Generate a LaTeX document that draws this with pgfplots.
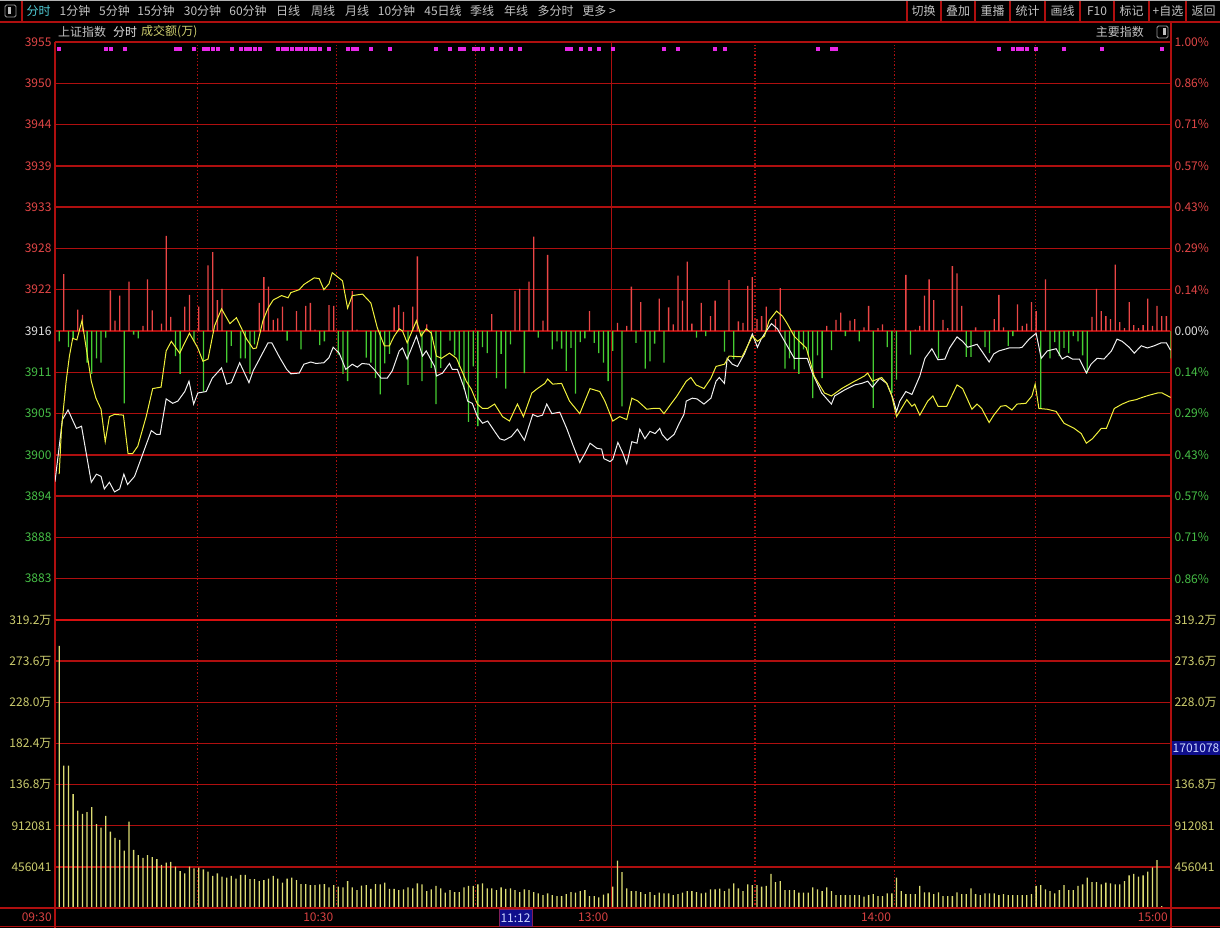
\documentclass[border=0pt]{standalone}
\usepackage{fontspec}
\setmainfont{Noto Sans CJK SC}
\usepackage{pgfplots}
\pgfplotsset{compat=1.18}
\definecolor{gridc}{RGB}{175,15,15}
\definecolor{gridb}{RGB}{215,15,15}
\definecolor{upc}{RGB}{235,70,70}
\definecolor{dnc}{RGB}{70,205,50}
\definecolor{lblr}{RGB}{225,70,70}
\definecolor{lblg}{RGB}{70,190,70}
\definecolor{lblw}{RGB}{225,225,225}
\definecolor{voll}{RGB}{205,205,110}
\definecolor{volc}{RGB}{220,220,115}
\definecolor{timec}{RGB}{215,65,65}
\definecolor{menuc}{RGB}{195,195,195}
\definecolor{cyanc}{RGB}{80,205,215}
\definecolor{liney}{RGB}{240,240,60}
\definecolor{linew}{RGB}{240,240,240}
\definecolor{mag}{RGB}{230,40,230}
\definecolor{navyb}{RGB}{15,15,140}
\pgfplotsset{
  base/.style={scale only axis, width=1116pt, xmin=-0.9, xmax=239,
    axis line style={draw=none}, tick style={draw=none}, major tick length=0pt,
    tick label style={font=\fontsize{12}{14}\selectfont},
    major grid style={draw=gridc, line width=1.5pt}},
  dottedgrid/.style={grid=major, major grid style={draw=gridc, line width=1.3pt, dash pattern=on 1.3pt off 2pt}},
}
\begin{document}
\begin{tikzpicture}
\useasboundingbox (0,0) rectangle (1220pt,-928pt);
\fill[black] (0,0) rectangle (1220pt,-928pt);

% ---------- top panel: bars (change vs previous close, index points) + right % labels
\begin{axis}[base, at={(55pt,-620pt)}, anchor=south west, height=578pt,
  ymin=-39.162, ymax=39.162,
  ytick={-33.567,-27.973,-22.378,-16.784,-11.189,-5.595,0,5.595,11.189,16.784,22.378,27.973,33.567,39.162},
  yticklabel pos=right,
  yticklabels={\textcolor{lblg}{0.86\%},\textcolor{lblg}{0.71\%},\textcolor{lblg}{0.57\%},\textcolor{lblg}{0.43\%},\textcolor{lblg}{0.29\%},\textcolor{lblg}{0.14\%},\textcolor{lblw}{0.00\%},\textcolor{lblr}{0.14\%},\textcolor{lblr}{0.29\%},\textcolor{lblr}{0.43\%},\textcolor{lblr}{0.57\%},\textcolor{lblr}{0.71\%},\textcolor{lblr}{0.86\%},\textcolor{lblr}{1.00\%}},
  xtick={-0.9,118.7,239}, xticklabels={}, grid=major,
  extra x ticks={29.8,59.6,89.5,149.6,179.5,209.8}, extra x tick labels={},
  extra x tick style={dottedgrid}]
\addplot[ybar, bar width=1.3pt, bar shift=0pt, fill=upc, draw=none] coordinates {
(1,7.7)(4,2.9)(5,2.2)(11,5.5)(12,1.4)(13,4.8)(15,6.7)(18,0.7)(19,7.0)(20,2.8)(22,1.0)(23,12.9)(24,1.9)(27,3.3)(28,4.9)(30,3.3)(32,8.9)(33,10.7)(34,4.2)(35,5.7)(43,3.8)(44,7.3)(45,6.0)(46,1.5)(47,1.7)(48,3.3)(51,2.7)(53,3.4)(54,3.8)(55,0.2)(58,3.5)(59,3.4)(63,5.4)(64,0.2)(72,3.2)(73,3.5)(74,2.6)(76,3.3)(77,10.1)(79,0.9)(93,2.3)(98,5.4)(99,5.7)(101,6.7)(102,12.8)(104,1.4)(105,10.3)(114,2.7)(120,1.1)(122,0.7)(123,6.0)(125,3.9)(129,4.4)(131,3.2)(132,0.9)(133,7.5)(134,4.1)(135,9.4)(136,1.0)(138,3.8)(140,2.0)(141,4.1)(144,6.9)(146,1.3)(147,1.1)(148,6.1)(149,7.3)(150,1.6)(151,2.0)(152,3.3)(154,1.6)(155,5.8)(165,0.7)(167,1.5)(168,2.5)(170,1.4)(171,1.6)(173,0.5)(174,3.4)(176,0.4)(177,0.9)(182,7.6)(184,0.2)(185,0.7)(186,4.8)(187,7.0)(188,4.2)(190,1.5)(191,0.4)(192,8.8)(193,7.8)(194,3.4)(197,0.5)(201,1.6)(202,4.9)(203,0.5)(206,3.6)(207,0.7)(208,1.0)(209,3.9)(210,2.7)(212,7.0)(222,1.9)(223,5.7)(224,2.7)(225,2.0)(226,1.6)(227,9.0)(228,1.2)(229,0.4)(230,3.9)(231,0.8)(232,0.4)(233,0.8)(234,4.4)(235,0.7)(236,3.4)(237,2.0)(238,2.0)};
\addplot[ybar, bar width=1.3pt, bar shift=0pt, fill=dnc, draw=none] coordinates {
(0,-1.4)(2,-2.2)(3,-1.0)(6,-4.3)(7,-5.8)(8,-3.7)(9,-4.3)(10,-0.9)(14,-9.8)(16,-0.5)(17,-1.0)(25,-3.4)(26,-5.8)(29,-1.4)(31,-8.2)(36,-4.3)(37,-2.0)(39,-3.7)(40,-3.7)(41,-5.8)(42,-1.8)(49,-1.3)(52,-2.5)(56,-1.9)(57,-1.4)(60,-3.2)(61,-5.8)(62,-6.8)(66,-3.6)(67,-4.3)(68,-6.4)(69,-8.6)(70,-4.4)(71,-3.1)(75,-7.3)(78,-6.8)(80,-5.0)(81,-9.9)(82,-5.0)(84,-1.3)(85,-3.3)(86,-4.9)(87,-7.9)(88,-12.3)(89,-4.8)(90,-12.9)(91,-2.2)(92,-3.0)(94,-6.4)(95,-3.1)(96,-7.8)(97,-1.8)(100,-5.7)(103,-0.9)(106,-2.5)(107,-1.4)(108,-2.4)(109,-5.4)(110,-2.3)(111,-8.5)(112,-1.5)(113,-1.0)(115,-1.6)(116,-3.0)(117,-4.3)(118,-6.8)(119,-2.7)(121,-10.2)(124,-1.6)(126,-5.1)(127,-4.1)(128,-1.7)(130,-4.3)(137,-0.9)(139,-0.7)(143,-2.8)(145,-3.8)(156,-5.1)(157,-3.7)(158,-5.2)(159,-5.8)(160,-2.5)(161,-3.3)(162,-9.1)(163,-3.3)(164,-6.4)(166,-2.6)(169,-0.7)(172,-1.4)(175,-10.4)(178,-2.2)(179,-8.4)(180,-6.6)(183,-3.2)(189,-3.7)(195,-3.5)(196,-3.5)(199,-2.2)(200,-3.0)(204,-2.0)(205,-0.7)(211,-10.4)(213,-3.7)(214,-1.5)(215,-3.4)(216,-2.3)(217,-3.0)(218,-0.7)(219,-1.4)(220,-3.3)(221,-5.7)(239,-3.7)};
\end{axis}

% ---------- top panel: index price lines + left price labels
\begin{axis}[base, at={(55pt,-620pt)}, anchor=south west, height=578pt,
  ymin=3877.038, ymax=3955.362, xtick=\empty,
  ytick={3882.633,3888.227,3893.822,3899.416,3905.011,3910.605,3916.2,3921.795,3927.389,3932.984,3938.578,3944.173,3949.767,3955.362},
  yticklabels={\textcolor{lblg}{3883},\textcolor{lblg}{3888},\textcolor{lblg}{3894},\textcolor{lblg}{3900},\textcolor{lblg}{3905},\textcolor{lblg}{3911},\textcolor{lblw}{3916},\textcolor{lblr}{3922},\textcolor{lblr}{3928},\textcolor{lblr}{3933},\textcolor{lblr}{3939},\textcolor{lblr}{3944},\textcolor{lblr}{3950},\textcolor{lblr}{3955}}]
\addplot[draw=linew, line width=1pt] coordinates {
(-0.9,3895.8)(0.7,3904.2)(1.9,3905.5)(3.7,3903.0)(4.8,3903.3)(6.9,3895.7)(8.0,3896.8)(9.0,3896.5)(9.7,3894.8)(10.8,3895.7)(11.9,3894.4)(13.0,3894.8)(13.9,3896.8)(14.7,3895.4)(16.2,3896.5)(17.6,3898.9)(19.8,3902.7)(20.9,3902.2)(21.7,3902.2)(23.0,3907.0)(24.4,3906.4)(25.5,3906.7)(27.0,3908.0)(27.9,3909.4)(28.9,3906.3)(29.8,3907.8)(31.6,3908.0)(32.9,3909.8)(34.9,3911.2)(36.0,3909.0)(37.0,3909.2)(38.8,3911.9)(40.8,3909.2)(41.7,3910.8)(42.8,3912.1)(44.9,3914.6)(45.7,3914.6)(47.4,3912.6)(48.9,3911.0)(49.8,3910.4)(51.6,3910.5)(52.6,3911.7)(54.1,3912.0)(55.2,3911.8)(56.9,3911.9)(58.0,3912.6)(58.9,3914.0)(60.2,3913.2)(61.6,3911.0)(63.0,3911.7)(64.1,3911.3)(65.1,3911.8)(66.6,3911.7)(67.7,3911.0)(69.2,3909.8)(70.5,3909.8)(71.6,3910.8)(73.1,3913.5)(73.8,3913.9)(74.8,3912.4)(76.8,3915.5)(78.1,3912.8)(78.9,3913.5)(80.7,3911.4)(81.1,3910.1)(82.4,3910.5)(83.9,3911.8)(84.5,3911.0)(85.6,3911.0)(87.1,3908.4)(87.8,3906.7)(88.8,3906.4)(89.9,3904.6)(91.0,3903.7)(92.1,3904.0)(93.6,3902.6)(94.7,3901.6)(95.7,3901.4)(97.2,3901.9)(98.5,3902.9)(100.0,3901.4)(101.8,3904.9)(102.8,3904.6)(103.9,3904.8)(104.8,3906.3)(105.9,3905.0)(107.6,3905.2)(109.1,3903.0)(110.4,3900.8)(111.9,3898.4)(113.0,3899.6)(114.1,3901.0)(115.6,3900.3)(116.6,3900.2)(117.1,3898.9)(118.4,3898.5)(119.0,3898.8)(120.1,3901.1)(121.2,3899.6)(122.0,3898.2)(123.1,3901.2)(124.2,3901.0)(124.8,3902.9)(125.9,3901.6)(127.0,3902.6)(128.1,3902.3)(129.1,3903.0)(129.6,3902.2)(130.7,3901.4)(132.2,3902.2)(133.3,3903.7)(134.3,3904.9)(134.8,3906.7)(136.1,3907.1)(137.1,3907.0)(138.6,3906.3)(140.1,3907.1)(141.2,3909.4)(141.9,3909.9)(143.0,3909.1)(143.6,3912.5)(144.7,3911.7)(145.8,3911.4)(147.3,3913.1)(149.0,3915.8)(150.1,3914.0)(150.9,3915.1)(152.0,3916.2)(153.1,3917.2)(154.4,3916.5)(156.3,3914.4)(158.0,3912.5)(159.1,3912.5)(160.8,3912.5)(161.9,3910.5)(163.9,3907.8)(166.0,3906.3)(166.7,3907.4)(168.8,3908.2)(171.0,3908.9)(172.5,3909.1)(173.8,3909.4)(174.8,3908.6)(176.4,3909.8)(177.9,3909.1)(179.2,3907.1)(180.0,3905.3)(180.7,3906.7)(182.0,3908.0)(183.3,3907.6)(185.0,3910.1)(186.1,3912.5)(187.6,3913.8)(188.9,3912.3)(190.4,3912.4)(191.4,3913.9)(193.0,3915.4)(194.2,3914.8)(195.3,3914.0)(197.3,3914.4)(198.3,3913.5)(199.9,3912.0)(200.9,3913.1)(202.0,3913.5)(204.2,3913.9)(206.3,3913.9)(207.0,3914.0)(208.5,3915.1)(210.0,3915.9)(211.1,3912.5)(212.4,3913.5)(214.3,3913.8)(215.6,3912.4)(216.7,3912.8)(217.8,3912.4)(219.3,3912.4)(220.8,3910.5)(221.8,3911.7)(223.1,3912.5)(224.6,3912.4)(226.2,3913.5)(227.4,3915.1)(228.5,3914.8)(230.0,3914.0)(231.1,3913.2)(232.6,3914.2)(233.9,3913.9)(235.4,3914.2)(236.9,3914.6)(238.0,3914.6)(238.9,3913.6)};
\addplot[draw=liney, line width=1pt] coordinates {
(0.0,3896.8)(0.5,3903.0)(1.5,3909.4)(2.2,3912.8)(2.9,3915.2)(3.8,3915.0)(4.9,3917.6)(5.9,3913.5)(6.9,3909.4)(7.9,3907.1)(9.0,3905.6)(9.9,3901.2)(10.8,3904.6)(11.9,3904.9)(13.8,3904.8)(14.8,3899.6)(15.8,3899.6)(16.9,3900.6)(18.7,3904.6)(20.1,3908.4)(21.9,3908.6)(23.0,3913.5)(24.1,3914.8)(25.9,3913.2)(28.0,3915.9)(29.8,3913.9)(30.9,3912.1)(32.0,3912.4)(33.4,3916.9)(34.9,3919.2)(36.7,3917.2)(38.1,3918.0)(40.3,3915.1)(41.7,3913.8)(42.4,3913.9)(43.8,3917.6)(44.9,3919.3)(46.0,3920.4)(47.8,3921.0)(49.2,3920.7)(49.8,3921.4)(51.6,3921.8)(52.6,3922.5)(54.8,3923.4)(55.9,3923.3)(56.9,3921.8)(58.0,3922.6)(58.7,3924.1)(60.9,3923.0)(62.0,3919.3)(63.0,3921.0)(65.2,3921.2)(67.0,3920.0)(68.4,3916.6)(69.9,3914.2)(71.0,3914.2)(72.0,3915.5)(73.1,3916.5)(73.8,3916.2)(74.8,3914.6)(76.8,3917.6)(77.8,3915.5)(78.9,3916.5)(80.0,3915.9)(81.1,3912.8)(82.2,3912.5)(83.9,3913.2)(85.4,3912.5)(87.5,3909.4)(88.6,3908.3)(89.9,3906.3)(91.0,3905.7)(92.1,3905.7)(93.6,3906.3)(95.3,3904.6)(96.8,3904.0)(98.5,3906.3)(99.8,3904.6)(101.6,3907.8)(102.8,3908.4)(104.4,3909.1)(105.0,3909.7)(106.1,3909.0)(108.0,3909.1)(109.7,3906.7)(111.9,3905.0)(114.1,3908.4)(116.2,3908.0)(117.3,3906.7)(119.0,3904.0)(120.5,3904.6)(122.0,3904.2)(123.1,3907.1)(124.4,3906.7)(126.3,3905.6)(127.6,3905.7)(129.1,3905.7)(130.0,3905.0)(131.5,3906.3)(132.8,3907.4)(134.8,3909.4)(135.8,3909.9)(136.9,3908.9)(138.6,3908.4)(140.1,3909.8)(141.2,3911.4)(143.0,3911.7)(144.0,3912.8)(146.8,3912.7)(149.0,3915.5)(150.1,3914.8)(151.6,3915.5)(152.6,3917.6)(154.2,3918.9)(155.5,3918.2)(156.5,3917.2)(158.0,3915.5)(159.1,3914.8)(160.6,3913.9)(162.3,3910.1)(164.5,3907.8)(166.0,3907.4)(168.2,3908.4)(171.0,3909.4)(173.1,3910.1)(173.8,3910.5)(174.8,3909.4)(176.8,3909.9)(177.9,3909.1)(178.9,3907.6)(180.0,3904.6)(182.2,3906.9)(183.3,3906.0)(183.9,3906.3)(185.0,3904.8)(186.7,3906.7)(187.8,3907.4)(188.9,3906.0)(190.8,3906.0)(193.0,3908.9)(194.2,3908.4)(196.2,3905.6)(197.3,3906.3)(198.3,3905.7)(199.9,3903.8)(200.9,3904.8)(202.4,3906.0)(203.5,3906.1)(204.8,3905.5)(205.9,3906.3)(207.8,3906.4)(209.1,3907.4)(209.8,3909.0)(210.6,3905.7)(212.4,3905.6)(214.3,3905.3)(216.0,3903.7)(218.2,3903.0)(219.7,3902.3)(220.8,3901.0)(222.1,3901.6)(224.0,3903.0)(225.1,3903.0)(226.8,3905.7)(228.5,3906.3)(230.0,3906.7)(231.5,3906.9)(232.8,3907.2)(234.3,3907.5)(236.1,3907.8)(237.1,3907.8)(238.9,3907.2)};
\addplot[only marks, mark=square*, mark size=1.5pt, mark options={draw=mag, fill=mag}] coordinates {
(0,3954.4)(10,3954.4)(11,3954.4)(14,3954.4)(25,3954.4)(26,3954.4)(29,3954.4)(31,3954.4)(32,3954.4)(33,3954.4)(34,3954.4)(37,3954.4)(39,3954.4)(40,3954.4)(41,3954.4)(42,3954.4)(43,3954.4)(47,3954.4)(48,3954.4)(49,3954.4)(50,3954.4)(51,3954.4)(52,3954.4)(53,3954.4)(54,3954.4)(55,3954.4)(56,3954.4)(58,3954.4)(62,3954.4)(63,3954.4)(64,3954.4)(67,3954.4)(71,3954.4)(81,3954.4)(84,3954.4)(86,3954.4)(87,3954.4)(89,3954.4)(90,3954.4)(91,3954.4)(93,3954.4)(95,3954.4)(97,3954.4)(99,3954.4)(109,3954.4)(110,3954.4)(112,3954.4)(114,3954.4)(116,3954.4)(119,3954.4)(130,3954.4)(133,3954.4)(141,3954.4)(143,3954.4)(163,3954.4)(166,3954.4)(167,3954.4)(202,3954.4)(205,3954.4)(206,3954.4)(207,3954.4)(208,3954.4)(210,3954.4)(216,3954.4)(224,3954.4)(237,3954.4)};
\end{axis}

% ---------- volume panel (万)
\begin{axis}[base, at={(55pt,-908pt)}, anchor=south west, height=288pt,
  ymin=0, ymax=319.2,
  ytick={0,45.6,91.2,136.8,182.4,228,273.6},
  yticklabels={,\textcolor{voll}{456041},\textcolor{voll}{912081},\textcolor{voll}{136.8万},\textcolor{voll}{182.4万},\textcolor{voll}{228.0万},\textcolor{voll}{273.6万}},
  ymajorgrids,
  xtick={-0.9,59.6,118.7,179.5,239}, xticklabels={09:30,10:30,13:00,14:00,15:00},
  xticklabel style={anchor=east, yshift=-9pt, xshift=-3pt, inner sep=0pt, text=timec},
  extra x ticks={29.8,59.6,89.5,149.6,179.5,209.8}, extra x tick labels={},
  extra x tick style={dottedgrid},
  extra y ticks={319.2}, extra y tick labels={\textcolor{voll}{319.2万}},
  extra y tick style={grid=major, major grid style={draw=gridb, line width=2pt}}]
\addplot[ybar, bar width=1.3pt, bar shift=0pt, fill=volc, draw=none] coordinates {
(0,290.4)(1,157.7)(2,157.7)(3,126.3)(4,107.8)(5,104.2)(6,106.4)(7,111.9)(8,93.1)(9,89.0)(10,102.0)(11,84.6)(12,77.6)(13,75.4)(14,63.5)(15,95.7)(16,64.3)(17,58.7)(18,55.7)(19,58.7)(20,56.5)(21,54.3)(22,47.7)(23,50.2)(24,51.0)(25,45.8)(26,41.0)(27,38.4)(28,45.8)(29,44.0)(30,44.7)(31,42.9)(32,40.2)(33,35.5)(34,38.4)(35,34.7)(36,33.6)(37,35.5)(38,32.5)(39,36.6)(40,36.6)(41,32.1)(42,32.1)(43,29.9)(44,31.0)(45,32.5)(46,35.5)(47,32.5)(48,28.0)(49,32.5)(50,33.6)(51,31.0)(52,26.6)(53,26.6)(54,25.5)(55,25.5)(56,26.2)(57,26.6)(58,22.9)(59,25.5)(60,23.6)(61,22.9)(62,29.9)(63,22.9)(64,19.9)(65,24.7)(66,25.5)(67,21.1)(68,26.6)(69,26.2)(70,28.0)(71,21.1)(72,21.1)(73,19.9)(74,20.7)(75,22.9)(76,21.8)(77,27.4)(78,26.2)(79,18.8)(80,20.7)(81,24.4)(82,21.8)(83,17.0)(84,19.9)(85,17.7)(86,17.7)(87,22.9)(88,24.4)(89,24.4)(90,26.2)(91,27.4)(92,21.8)(93,21.8)(94,19.9)(95,22.9)(96,21.1)(97,21.8)(98,19.9)(99,17.7)(100,20.7)(101,19.9)(102,17.7)(103,16.3)(104,14.4)(105,16.3)(106,14.4)(107,13.3)(108,13.3)(109,15.5)(110,17.7)(111,17.0)(112,18.8)(113,19.9)(114,13.3)(115,13.3)(116,11.8)(117,14.8)(118,16.3)(119,23.6)(120,52.4)(121,39.9)(122,21.8)(123,18.8)(124,18.8)(125,17.7)(126,15.5)(127,17.7)(128,14.4)(129,17.0)(130,16.3)(131,16.3)(132,14.4)(133,15.5)(134,17.0)(135,18.8)(136,18.8)(137,17.7)(138,16.3)(139,17.0)(140,20.7)(141,20.7)(142,21.4)(143,18.8)(144,21.4)(145,27.4)(146,21.8)(147,18.8)(148,26.2)(149,25.5)(150,25.5)(151,23.6)(152,24.4)(153,37.7)(154,28.8)(155,29.9)(156,19.9)(157,19.9)(158,19.9)(159,17.0)(160,17.0)(161,17.0)(162,22.9)(163,20.7)(164,18.8)(165,22.9)(166,18.8)(167,14.4)(168,14.4)(169,14.4)(170,14.4)(171,14.4)(172,14.4)(173,12.5)(174,14.4)(175,15.5)(176,13.3)(177,13.3)(178,16.3)(179,16.3)(180,33.6)(181,18.8)(182,15.5)(183,15.5)(184,15.5)(185,24.4)(186,17.4)(187,17.4)(188,15.5)(189,17.4)(190,13.3)(191,13.3)(192,13.3)(193,17.4)(194,15.5)(195,15.5)(196,21.8)(197,15.5)(198,14.4)(199,16.3)(200,16.3)(201,16.3)(202,14.4)(203,15.5)(204,14.4)(205,14.4)(206,14.4)(207,14.4)(208,14.4)(209,15.5)(210,24.4)(211,25.5)(212,20.7)(213,18.8)(214,16.3)(215,19.9)(216,25.5)(217,19.9)(218,19.9)(219,24.4)(220,26.2)(221,33.6)(222,28.8)(223,28.8)(224,26.2)(225,28.0)(226,27.4)(227,26.2)(228,26.2)(229,29.9)(230,36.2)(231,37.7)(232,34.7)(233,36.2)(234,40.2)(235,45.1)(236,53.2)(237,2.2)(238,0)(239,85.0)};
\end{axis}

% ---------- volume panel right labels and solid verticals
\begin{axis}[base, at={(55pt,-908pt)}, anchor=south west, height=288pt,
  ymin=0, ymax=319.2,
  ytick={45.6,91.2,136.8,228,273.6,319.2}, yticklabel pos=right,
  yticklabels={\textcolor{voll}{456041},\textcolor{voll}{912081},\textcolor{voll}{136.8万},\textcolor{voll}{228.0万},\textcolor{voll}{273.6万},\textcolor{voll}{319.2万}},
  xtick={-0.9,118.7,239}, xticklabels={}, xmajorgrids]
\end{axis}

% ---------- frame, toolbar and captions
\begin{scope}[x=1pt, y=-1pt, every node/.style={font=\fontsize{12}{14}\selectfont, inner sep=0pt}]
  \draw[gray!60, line width=1pt] (0,0.5) -- (1220,0.5);
  \draw[gridc, line width=1.3pt] (0,22) -- (1220,22);
  \draw[gridc, line width=1.3pt] (22,1) -- (22,22);
  \foreach \sx in {907,941,975,1010,1045,1080,1114,1149,1186}
    \draw[gridc, line width=1.3pt] (\sx,1) -- (\sx,22);
  \draw[gridc, line width=1.5pt] (1171,22) -- (1171,42);
  \draw[gridc, line width=1.5pt] (0,908) -- (1220,908);
  \draw[gridc, line width=1.5pt] (0,926.5) -- (1220,926.5);
  \draw[gridc, line width=1.5pt] (55,908) -- (55,928);
  \draw[gridc, line width=1.5pt] (1171,908) -- (1171,928);
  % icons
  \draw[gray!80, line width=0.8pt, rounded corners=1.5pt] (5,5) rectangle (16,17);
  \fill[gray!50] (7.5,7.5) rectangle (10.5,14.5);
  \draw[gray!80, line width=0.8pt, rounded corners=1.5pt] (1157,26) rectangle (1168,38);
  \fill[gray!50] (1163,28.5) rectangle (1166,35.5);
  % toolbar
  \node[text=cyanc] at (38.5,11) {分时};
  \node[text=menuc] at (75,11) {1分钟};
  \node[text=menuc] at (114.5,11) {5分钟};
  \node[text=menuc] at (156,11) {15分钟};
  \node[text=menuc] at (202.5,11) {30分钟};
  \node[text=menuc] at (248,11) {60分钟};
  \node[text=menuc] at (288,11) {日线};
  \node[text=menuc] at (323,11) {周线};
  \node[text=menuc] at (357,11) {月线};
  \node[text=menuc] at (396.5,11) {10分钟};
  \node[text=menuc] at (443,11) {45日线};
  \node[text=menuc] at (482,11) {季线};
  \node[text=menuc] at (516,11) {年线};
  \node[text=menuc] at (555.5,11) {多分时};
  \node[text=menuc] at (599,11) {更多 >};
  \node[text=menuc] at (923.5,11) {切换};
  \node[text=menuc] at (958,11) {叠加};
  \node[text=menuc] at (992.5,11) {重播};
  \node[text=menuc] at (1027.5,11) {统计};
  \node[text=menuc] at (1062.5,11) {画线};
  \node[text=menuc] at (1097,11) {F10};
  \node[text=menuc] at (1131.5,11) {标记};
  \node[text=menuc] at (1168,11) {+自选};
  \node[text=menuc] at (1203.5,11) {返回};
  % caption row
  \node[anchor=west, text=menuc] at (58,32) {上证指数};
  \node[anchor=west, text=lblw] at (113,32) {分时};
  \node[anchor=west, text=voll] at (141,32) {成交额(万)};
  \node[anchor=east, text=menuc] at (1144,32) {主要指数};
  % cursor boxes
  \node[fill=navyb, draw={rgb,255:red,130;green,30;blue,90}, text={rgb,255:red,205;green,215;blue,255}, minimum width=33pt, minimum height=17pt] at (515.5,918) {11:12};
  \node[fill=navyb, text={rgb,255:red,205;green,215;blue,255}, minimum width=48pt, minimum height=14pt] at (1196,748) {1701078};
\end{scope}
\end{tikzpicture}
\end{document}
